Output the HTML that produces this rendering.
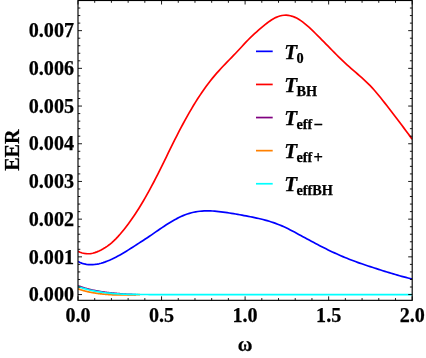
<!DOCTYPE html>
<html><head><meta charset="utf-8"><title>EER plot</title>
<style>
html,body{margin:0;padding:0;background:#fff;}
body{width:426px;height:358px;overflow:hidden;}
svg{display:block;will-change:transform;}
text{font-family:"Liberation Serif",serif;font-weight:bold;font-size:20.1px;fill:#000;stroke:#000;stroke-width:0.25px;}
</style></head>
<body>
<svg width="426" height="358" viewBox="0 0 426 358">
<rect x="0" y="0" width="426" height="358" fill="#fff"/>
<defs><clipPath id="c"><rect x="78.0" y="0.5" width="334.2" height="299.85"/></clipPath></defs>
<g clip-path="url(#c)" fill="none" stroke-width="1.7" stroke-linejoin="round">
<path d="M78.00 261.40 L80.10 262.51 L82.20 263.35 L84.31 263.95 L86.41 264.35 L88.51 264.57 L90.61 264.65 L92.71 264.61 L94.82 264.46 L96.92 264.19 L99.02 263.79 L101.12 263.26 L103.22 262.62 L105.32 261.89 L107.43 261.08 L109.53 260.19 L111.63 259.24 L113.73 258.23 L115.83 257.17 L117.94 256.05 L120.04 254.89 L122.14 253.69 L124.24 252.46 L126.34 251.19 L128.45 249.89 L130.55 248.57 L132.65 247.23 L134.75 245.88 L136.85 244.52 L138.95 243.16 L141.06 241.80 L143.16 240.44 L145.26 239.06 L147.36 237.67 L149.46 236.26 L151.57 234.83 L153.67 233.38 L155.77 231.92 L157.87 230.46 L159.97 229.01 L162.08 227.59 L164.18 226.19 L166.28 224.82 L168.38 223.49 L170.48 222.21 L172.58 220.97 L174.69 219.77 L176.79 218.63 L178.89 217.55 L180.99 216.54 L183.09 215.61 L185.20 214.76 L187.30 214.00 L189.40 213.34 L191.50 212.77 L193.60 212.28 L195.71 211.87 L197.81 211.53 L199.91 211.25 L202.01 211.04 L204.11 210.89 L206.22 210.81 L208.32 210.81 L210.42 210.87 L212.52 211.00 L214.62 211.17 L216.72 211.37 L218.83 211.60 L220.93 211.84 L223.03 212.11 L225.13 212.39 L227.23 212.69 L229.34 213.00 L231.44 213.33 L233.54 213.68 L235.64 214.03 L237.74 214.40 L239.85 214.77 L241.95 215.15 L244.05 215.54 L246.15 215.93 L248.25 216.33 L250.35 216.75 L252.46 217.17 L254.56 217.61 L256.66 218.06 L258.76 218.53 L260.86 219.02 L262.97 219.53 L265.07 220.08 L267.17 220.66 L269.27 221.28 L271.37 221.94 L273.48 222.64 L275.58 223.39 L277.68 224.18 L279.78 225.02 L281.88 225.90 L283.98 226.83 L286.09 227.81 L288.19 228.84 L290.29 229.90 L292.39 230.99 L294.49 232.11 L296.60 233.24 L298.70 234.39 L300.80 235.54 L302.90 236.68 L305.00 237.83 L307.11 238.97 L309.21 240.11 L311.31 241.24 L313.41 242.36 L315.51 243.47 L317.62 244.57 L319.72 245.67 L321.82 246.74 L323.92 247.81 L326.02 248.86 L328.12 249.89 L330.23 250.91 L332.33 251.91 L334.43 252.88 L336.53 253.84 L338.63 254.78 L340.74 255.70 L342.84 256.60 L344.94 257.48 L347.04 258.33 L349.14 259.17 L351.25 259.99 L353.35 260.78 L355.45 261.57 L357.55 262.33 L359.65 263.08 L361.75 263.81 L363.86 264.53 L365.96 265.24 L368.06 265.94 L370.16 266.63 L372.26 267.31 L374.37 267.99 L376.47 268.68 L378.57 269.35 L380.67 270.03 L382.77 270.70 L384.88 271.36 L386.98 272.02 L389.08 272.67 L391.18 273.31 L393.28 273.93 L395.38 274.55 L397.49 275.15 L399.59 275.74 L401.69 276.32 L403.79 276.88 L405.89 277.43 L408.00 277.97 L410.10 278.49 L412.20 279.00" stroke="#0000ff"/>
<path d="M78.00 251.40 L80.10 252.28 L82.20 252.96 L84.31 253.43 L86.41 253.69 L88.51 253.75 L90.61 253.59 L92.71 253.23 L94.82 252.65 L96.92 251.86 L99.02 250.93 L101.12 249.89 L103.22 248.75 L105.32 247.49 L107.43 246.10 L109.53 244.55 L111.63 242.83 L113.73 240.93 L115.83 238.86 L117.94 236.64 L120.04 234.28 L122.14 231.79 L124.24 229.20 L126.34 226.50 L128.45 223.70 L130.55 220.80 L132.65 217.80 L134.75 214.70 L136.85 211.50 L138.95 208.19 L141.06 204.78 L143.16 201.26 L145.26 197.65 L147.36 193.93 L149.46 190.11 L151.57 186.21 L153.67 182.23 L155.77 178.17 L157.87 174.04 L159.97 169.85 L162.08 165.61 L164.18 161.32 L166.28 157.02 L168.38 152.71 L170.48 148.41 L172.58 144.14 L174.69 139.93 L176.79 135.77 L178.89 131.69 L180.99 127.67 L183.09 123.73 L185.20 119.87 L187.30 116.10 L189.40 112.41 L191.50 108.81 L193.60 105.30 L195.71 101.89 L197.81 98.57 L199.91 95.34 L202.01 92.22 L204.11 89.20 L206.22 86.27 L208.32 83.45 L210.42 80.73 L212.52 78.12 L214.62 75.60 L216.72 73.17 L218.83 70.82 L220.93 68.52 L223.03 66.28 L225.13 64.07 L227.23 61.90 L229.34 59.74 L231.44 57.58 L233.54 55.42 L235.64 53.23 L237.74 51.02 L239.85 48.77 L241.95 46.48 L244.05 44.20 L246.15 41.95 L248.25 39.76 L250.35 37.66 L252.46 35.65 L254.56 33.72 L256.66 31.83 L258.76 29.98 L260.86 28.15 L262.97 26.37 L265.07 24.64 L267.17 22.99 L269.27 21.43 L271.37 20.00 L273.48 18.72 L275.58 17.62 L277.68 16.72 L279.78 16.02 L281.88 15.53 L283.98 15.26 L286.09 15.20 L288.19 15.36 L290.29 15.74 L292.39 16.32 L294.49 17.11 L296.60 18.10 L298.70 19.28 L300.80 20.63 L302.90 22.15 L305.00 23.80 L307.11 25.58 L309.21 27.46 L311.31 29.43 L313.41 31.45 L315.51 33.50 L317.62 35.58 L319.72 37.67 L321.82 39.78 L323.92 41.90 L326.02 44.04 L328.12 46.19 L330.23 48.33 L332.33 50.48 L334.43 52.62 L336.53 54.75 L338.63 56.85 L340.74 58.93 L342.84 60.96 L344.94 62.94 L347.04 64.87 L349.14 66.74 L351.25 68.58 L353.35 70.39 L355.45 72.18 L357.55 73.98 L359.65 75.79 L361.75 77.64 L363.86 79.54 L365.96 81.51 L368.06 83.56 L370.16 85.71 L372.26 87.94 L374.37 90.28 L376.47 92.71 L378.57 95.23 L380.67 97.83 L382.77 100.47 L384.88 103.14 L386.98 105.83 L389.08 108.52 L391.18 111.23 L393.28 113.96 L395.38 116.70 L397.49 119.47 L399.59 122.26 L401.69 125.06 L403.79 127.88 L405.89 130.70 L408.00 133.53 L410.10 136.37 L412.20 139.20" stroke="#ff0000"/>
<path d="M78.00 285.70 L78.36 285.84 L78.73 285.97 L79.09 286.11 L79.46 286.24 L79.82 286.37 L80.19 286.50 L80.55 286.63 L80.92 286.76 L81.28 286.89 L81.65 287.01 L82.01 287.14 L82.38 287.26 L82.74 287.38 L83.11 287.51 L83.47 287.63 L83.84 287.74 L84.20 287.86 L84.57 287.97 L84.93 288.09 L85.30 288.20 L85.66 288.31 L86.03 288.42 L86.39 288.53 L86.75 288.63 L87.12 288.73 L87.48 288.83 L87.85 288.93 L88.21 289.03 L88.58 289.13 L88.94 289.22 L89.31 289.31 L89.67 289.40 L90.04 289.49 L90.40 289.57 L90.77 289.65 L91.13 289.74 L91.50 289.82 L91.86 289.90 L92.23 289.98 L92.59 290.06 L92.96 290.14 L93.32 290.22 L93.69 290.29 L94.05 290.37 L94.42 290.44 L94.78 290.52 L95.14 290.59 L95.51 290.66 L95.87 290.73 L96.24 290.80 L96.60 290.87 L96.97 290.94 L97.33 291.01 L97.70 291.07 L98.06 291.14 L98.43 291.20 L98.79 291.27 L99.16 291.33 L99.52 291.39 L99.89 291.45 L100.25 291.51 L100.62 291.57 L100.98 291.63 L101.35 291.69 L101.71 291.74 L102.08 291.80 L102.44 291.85 L102.81 291.90 L103.17 291.96 L103.53 292.01 L103.90 292.06 L104.26 292.11 L104.63 292.16 L104.99 292.21 L105.36 292.25 L105.72 292.30 L106.09 292.35 L106.45 292.39 L106.82 292.44 L107.18 292.48 L107.55 292.52 L107.91 292.57 L108.28 292.61 L108.64 292.65 L109.01 292.69 L109.37 292.73 L109.74 292.78 L110.10 292.82 L110.47 292.85 L110.83 292.89 L111.19 292.93 L111.56 292.97 L111.92 293.01 L112.29 293.04 L112.65 293.08 L113.02 293.12 L113.38 293.15 L113.75 293.19 L114.11 293.22 L114.48 293.26 L114.84 293.29 L115.21 293.33 L115.57 293.36 L115.94 293.39 L116.30 293.43 L116.67 293.46 L117.03 293.49 L117.40 293.52 L117.76 293.55 L118.13 293.59 L118.49 293.62 L118.86 293.65 L119.22 293.68 L119.58 293.71 L119.95 293.74 L120.31 293.77 L120.68 293.80 L121.04 293.83 L121.41 293.86 L121.77 293.89 L122.14 293.92 L122.50 293.95 L122.87 293.98 L123.23 294.01 L123.60 294.03 L123.96 294.06 L124.33 294.09 L124.69 294.11 L125.06 294.14 L125.42 294.16 L125.79 294.18 L126.15 294.21 L126.52 294.23 L126.88 294.25 L127.25 294.26 L127.61 294.28 L127.97 294.30 L128.34 294.31 L128.70 294.33 L129.07 294.35 L129.43 294.36 L129.80 294.37 L130.16 294.39 L130.53 294.40 L130.89 294.42 L131.26 294.43 L131.62 294.44 L131.99 294.45 L132.35 294.47 L132.72 294.48 L133.08 294.49 L133.45 294.50 L133.81 294.51 L134.18 294.52 L134.54 294.53 L134.91 294.53 L135.27 294.54 L135.64 294.54 L136.00 294.55" stroke="#800080"/>
<path d="M78.00 288.90 L78.39 289.03 L78.78 289.16 L79.17 289.29 L79.56 289.41 L79.95 289.54 L80.34 289.66 L80.73 289.78 L81.12 289.91 L81.51 290.03 L81.90 290.14 L82.29 290.26 L82.68 290.38 L83.07 290.49 L83.46 290.60 L83.85 290.71 L84.24 290.82 L84.63 290.93 L85.02 291.03 L85.41 291.14 L85.80 291.24 L86.19 291.34 L86.58 291.43 L86.97 291.53 L87.36 291.62 L87.75 291.71 L88.14 291.80 L88.53 291.88 L88.92 291.97 L89.31 292.05 L89.70 292.12 L90.09 292.20 L90.48 292.27 L90.87 292.34 L91.26 292.41 L91.65 292.49 L92.04 292.56 L92.43 292.62 L92.82 292.69 L93.21 292.76 L93.60 292.83 L93.99 292.89 L94.38 292.96 L94.77 293.02 L95.16 293.08 L95.55 293.14 L95.94 293.20 L96.33 293.26 L96.72 293.32 L97.11 293.38 L97.50 293.44 L97.89 293.49 L98.28 293.54 L98.67 293.60 L99.06 293.65 L99.45 293.70 L99.84 293.75 L100.23 293.79 L100.62 293.84 L101.01 293.89 L101.40 293.93 L101.79 293.97 L102.18 294.01 L102.57 294.05 L102.96 294.09 L103.35 294.13 L103.74 294.16 L104.13 294.19 L104.52 294.23 L104.91 294.26 L105.30 294.29 L105.69 294.32 L106.08 294.36 L106.47 294.39 L106.86 294.42 L107.25 294.45 L107.64 294.49 L108.03 294.52 L108.42 294.55 L108.81 294.58 L109.19 294.61 L109.58 294.64 L109.97 294.66 L110.36 294.69 L110.75 294.72 L111.14 294.74 L111.53 294.76 L111.92 294.78 L112.31 294.80 L112.70 294.82 L113.09 294.84 L113.48 294.85 L113.87 294.87 L114.26 294.88 L114.65 294.89 L115.04 294.89 L115.43 294.90 L115.82 294.90 L116.21 294.90 L116.60 294.90 L116.99 294.90 L117.38 294.90 L117.77 294.90 L118.16 294.90 L118.55 294.90 L118.94 294.90 L119.33 294.90 L119.72 294.90 L120.11 294.90 L120.50 294.90 L120.89 294.90 L121.28 294.90 L121.67 294.90 L122.06 294.90 L122.45 294.90 L122.84 294.90 L123.23 294.90 L123.62 294.90 L124.01 294.90 L124.40 294.90 L124.79 294.90 L125.18 294.90 L125.57 294.90 L125.96 294.90 L126.35 294.90 L126.74 294.90 L127.13 294.90 L127.52 294.90 L127.91 294.90 L128.30 294.90 L128.69 294.90 L129.08 294.90 L129.47 294.89 L129.86 294.89 L130.25 294.89 L130.64 294.88 L131.03 294.87 L131.42 294.87 L131.81 294.86 L132.20 294.85 L132.59 294.84 L132.98 294.83 L133.37 294.82 L133.76 294.81 L134.15 294.80 L134.54 294.79 L134.93 294.78 L135.32 294.77 L135.71 294.75 L136.10 294.74 L136.49 294.73 L136.88 294.71 L137.27 294.70 L137.66 294.69 L138.05 294.67 L138.44 294.66 L138.83 294.64 L139.22 294.63 L139.61 294.61 L140.00 294.60" stroke="#ff8000"/>
<path d="M78.00 286.60 L80.10 287.30 L82.20 287.97 L84.31 288.61 L86.41 289.19 L88.51 289.73 L90.61 290.21 L92.71 290.66 L94.82 291.09 L96.92 291.48 L99.02 291.85 L101.12 292.18 L103.22 292.48 L105.32 292.73 L107.43 292.98 L109.53 293.21 L111.63 293.41 L113.73 293.60 L115.83 293.76 L117.94 293.88 L120.04 293.98 L122.14 294.08 L124.24 294.17 L126.34 294.25 L128.45 294.32 L130.55 294.38 L132.65 294.42 L134.75 294.45 L136.85 294.46 L138.95 294.48 L141.06 294.49 L143.16 294.50 L145.26 294.51 L147.36 294.52 L149.46 294.53 L151.57 294.54 L153.67 294.54 L155.77 294.55 L157.87 294.55 L159.97 294.55 L162.08 294.55 L164.18 294.55 L166.28 294.55 L168.38 294.55 L170.48 294.55 L172.58 294.55 L174.69 294.55 L176.79 294.55 L178.89 294.55 L180.99 294.55 L183.09 294.55 L185.20 294.55 L187.30 294.55 L189.40 294.55 L191.50 294.55 L193.60 294.55 L195.71 294.55 L197.81 294.55 L199.91 294.55 L202.01 294.55 L204.11 294.55 L206.22 294.55 L208.32 294.55 L210.42 294.55 L212.52 294.55 L214.62 294.55 L216.72 294.55 L218.83 294.55 L220.93 294.55 L223.03 294.55 L225.13 294.55 L227.23 294.55 L229.34 294.55 L231.44 294.55 L233.54 294.55 L235.64 294.55 L237.74 294.55 L239.85 294.55 L241.95 294.55 L244.05 294.55 L246.15 294.55 L248.25 294.55 L250.35 294.55 L252.46 294.55 L254.56 294.55 L256.66 294.55 L258.76 294.55 L260.86 294.55 L262.97 294.55 L265.07 294.55 L267.17 294.55 L269.27 294.55 L271.37 294.55 L273.48 294.55 L275.58 294.55 L277.68 294.55 L279.78 294.55 L281.88 294.55 L283.98 294.55 L286.09 294.55 L288.19 294.55 L290.29 294.55 L292.39 294.55 L294.49 294.55 L296.60 294.55 L298.70 294.55 L300.80 294.55 L302.90 294.55 L305.00 294.55 L307.11 294.55 L309.21 294.55 L311.31 294.55 L313.41 294.55 L315.51 294.55 L317.62 294.55 L319.72 294.55 L321.82 294.55 L323.92 294.55 L326.02 294.55 L328.12 294.55 L330.23 294.55 L332.33 294.55 L334.43 294.55 L336.53 294.55 L338.63 294.55 L340.74 294.55 L342.84 294.55 L344.94 294.55 L347.04 294.55 L349.14 294.55 L351.25 294.55 L353.35 294.55 L355.45 294.55 L357.55 294.55 L359.65 294.55 L361.75 294.55 L363.86 294.55 L365.96 294.55 L368.06 294.55 L370.16 294.55 L372.26 294.55 L374.37 294.55 L376.47 294.55 L378.57 294.55 L380.67 294.55 L382.77 294.55 L384.88 294.55 L386.98 294.55 L389.08 294.55 L391.18 294.55 L393.28 294.55 L395.38 294.55 L397.49 294.55 L399.59 294.55 L401.69 294.55 L403.79 294.55 L405.89 294.55 L408.00 294.55 L410.10 294.55 L412.20 294.55" stroke="#00ffff"/>
</g>
<path d="M78.00 300.35 v-4.0 M78.00 0.5 v4.0 M94.71 300.35 v-2.3 M94.71 0.5 v2.3 M111.42 300.35 v-2.3 M111.42 0.5 v2.3 M128.13 300.35 v-2.3 M128.13 0.5 v2.3 M144.84 300.35 v-2.3 M144.84 0.5 v2.3 M161.55 300.35 v-4.0 M161.55 0.5 v4.0 M178.26 300.35 v-2.3 M178.26 0.5 v2.3 M194.97 300.35 v-2.3 M194.97 0.5 v2.3 M211.68 300.35 v-2.3 M211.68 0.5 v2.3 M228.39 300.35 v-2.3 M228.39 0.5 v2.3 M245.10 300.35 v-4.0 M245.10 0.5 v4.0 M261.81 300.35 v-2.3 M261.81 0.5 v2.3 M278.52 300.35 v-2.3 M278.52 0.5 v2.3 M295.23 300.35 v-2.3 M295.23 0.5 v2.3 M311.94 300.35 v-2.3 M311.94 0.5 v2.3 M328.65 300.35 v-4.0 M328.65 0.5 v4.0 M345.36 300.35 v-2.3 M345.36 0.5 v2.3 M362.07 300.35 v-2.3 M362.07 0.5 v2.3 M378.78 300.35 v-2.3 M378.78 0.5 v2.3 M395.49 300.35 v-2.3 M395.49 0.5 v2.3 M412.20 300.35 v-4.0 M412.20 0.5 v4.0 M78.0 294.55 h4.0 M412.2 294.55 h-4.0 M78.0 287.01 h2.3 M412.2 287.01 h-2.3 M78.0 279.47 h2.3 M412.2 279.47 h-2.3 M78.0 271.93 h2.3 M412.2 271.93 h-2.3 M78.0 264.39 h2.3 M412.2 264.39 h-2.3 M78.0 256.85 h4.0 M412.2 256.85 h-4.0 M78.0 249.31 h2.3 M412.2 249.31 h-2.3 M78.0 241.77 h2.3 M412.2 241.77 h-2.3 M78.0 234.23 h2.3 M412.2 234.23 h-2.3 M78.0 226.69 h2.3 M412.2 226.69 h-2.3 M78.0 219.15 h4.0 M412.2 219.15 h-4.0 M78.0 211.61 h2.3 M412.2 211.61 h-2.3 M78.0 204.07 h2.3 M412.2 204.07 h-2.3 M78.0 196.53 h2.3 M412.2 196.53 h-2.3 M78.0 188.99 h2.3 M412.2 188.99 h-2.3 M78.0 181.45 h4.0 M412.2 181.45 h-4.0 M78.0 173.91 h2.3 M412.2 173.91 h-2.3 M78.0 166.37 h2.3 M412.2 166.37 h-2.3 M78.0 158.83 h2.3 M412.2 158.83 h-2.3 M78.0 151.29 h2.3 M412.2 151.29 h-2.3 M78.0 143.75 h4.0 M412.2 143.75 h-4.0 M78.0 136.21 h2.3 M412.2 136.21 h-2.3 M78.0 128.67 h2.3 M412.2 128.67 h-2.3 M78.0 121.13 h2.3 M412.2 121.13 h-2.3 M78.0 113.59 h2.3 M412.2 113.59 h-2.3 M78.0 106.05 h4.0 M412.2 106.05 h-4.0 M78.0 98.51 h2.3 M412.2 98.51 h-2.3 M78.0 90.97 h2.3 M412.2 90.97 h-2.3 M78.0 83.43 h2.3 M412.2 83.43 h-2.3 M78.0 75.89 h2.3 M412.2 75.89 h-2.3 M78.0 68.35 h4.0 M412.2 68.35 h-4.0 M78.0 60.81 h2.3 M412.2 60.81 h-2.3 M78.0 53.27 h2.3 M412.2 53.27 h-2.3 M78.0 45.73 h2.3 M412.2 45.73 h-2.3 M78.0 38.19 h2.3 M412.2 38.19 h-2.3 M78.0 30.65 h4.0 M412.2 30.65 h-4.0 M78.0 23.11 h2.3 M412.2 23.11 h-2.3 M78.0 15.57 h2.3 M412.2 15.57 h-2.3 M78.0 8.03 h2.3 M412.2 8.03 h-2.3" stroke="#000" stroke-width="0.9" fill="none"/>
<rect x="78.0" y="0.5" width="334.2" height="299.85" fill="none" stroke="#000" stroke-width="1.15"/>
<text x="74" y="301.20" text-anchor="end">0.000</text><text x="74" y="263.50" text-anchor="end">0.001</text><text x="74" y="225.80" text-anchor="end">0.002</text><text x="74" y="188.10" text-anchor="end">0.003</text><text x="74" y="150.40" text-anchor="end">0.004</text><text x="74" y="112.70" text-anchor="end">0.005</text><text x="74" y="75.00" text-anchor="end">0.006</text><text x="74" y="37.30" text-anchor="end">0.007</text>
<text x="78.00" y="322" text-anchor="middle">0.0</text><text x="161.55" y="322" text-anchor="middle">0.5</text><text x="245.10" y="322" text-anchor="middle">1.0</text><text x="328.65" y="322" text-anchor="middle">1.5</text><text x="412.20" y="322" text-anchor="middle">2.0</text>
<text x="245" y="351" text-anchor="middle">ω</text>
<text transform="translate(19.2 150.2) rotate(-90)" text-anchor="middle">EER</text>
<path d="M256 51.35 H272.7" stroke="#0000ff" stroke-width="1.7" fill="none"/><text x="284.3" y="59.05" style="font-style:italic;font-size:21.1px">T</text><text x="296.4" y="63.05" style="font-size:14.3px">0</text><path d="M256 84.45 H272.7" stroke="#ff0000" stroke-width="1.7" fill="none"/><text x="284.3" y="92.15" style="font-style:italic;font-size:21.1px">T</text><text x="296.4" y="96.15" style="font-size:14.3px">BH</text><path d="M256 117.55 H272.7" stroke="#800080" stroke-width="1.7" fill="none"/><text x="284.3" y="125.25" style="font-style:italic;font-size:21.1px">T</text><text x="296.4" y="129.25" style="font-size:14.3px">eff<tspan dx="1.2" dy="1.1" style="font-size:16.5px">−</tspan></text><path d="M256 150.65 H272.7" stroke="#ff8000" stroke-width="1.7" fill="none"/><text x="284.3" y="158.35" style="font-style:italic;font-size:21.1px">T</text><text x="296.4" y="162.35" style="font-size:14.3px">eff<tspan dx="1.2" dy="1.1" style="font-size:16.5px">+</tspan></text><path d="M256 183.75 H272.7" stroke="#00ffff" stroke-width="1.7" fill="none"/><text x="284.3" y="191.45" style="font-style:italic;font-size:21.1px">T</text><text x="296.4" y="195.45" style="font-size:14.3px">effBH</text>
</svg>
</body></html>
